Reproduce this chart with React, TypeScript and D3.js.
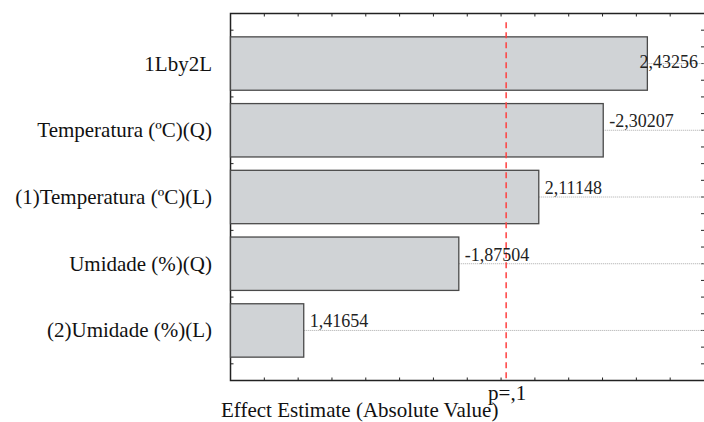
import React, { useRef, useEffect } from 'react';
import * as d3 from 'd3';

// Pareto chart of standardized effects
const effectNames = [
  '1Lby2L',
  'Temperatura (ºC)(Q)',
  '(1)Temperatura (ºC)(L)',
  'Umidade (%)(Q)',
  '(2)Umidade (%)(L)',
];
const effectValues = [2.43256, -2.30207, 2.11148, -1.87504, 1.41654];
const pLabel = 'p=,1';
const pCritical = 2.015;
const xTitle = 'Effect Estimate (Absolute Value)';

const fmt = (v: number) => v.toFixed(5).replace('.', ',');

const App = () => {
  const svgRef = useRef<SVGSVGElement>(null);

  useEffect(() => {
    const svg = d3.select(svgRef.current);
    svg.selectAll('*').remove();

    const width = 704;
    const height = 422;
    const margin = { top: 13.5, right: 0, bottom: 41.5, left: 230.5 };
    const font = '"Liberation Serif", "Times New Roman", serif';

    const x = d3.scaleLinear()
      .domain([1.2, 2.6])
      .range([margin.left, width - margin.right]);

    const y = d3.scaleLinear()
      .domain([0.25, 5.75])
      .range([margin.top, height - margin.bottom]);

    const data = effectNames.map((name, i) => ({ name, value: effectValues[i], pos: i + 1 }));
    const barH = y(0.8) - y(0);
    const x0 = x.range()[0], x1 = x.range()[1];
    const y0 = y.range()[0], y1 = y.range()[1];

    // frame: left, top, bottom (right edge is off-canvas)
    svg.append('path')
      .attr('d', `M${x1},${y0}H${x0}V${y1}H${x1}`)
      .attr('fill', 'none')
      .attr('stroke', '#222')
      .attr('stroke-width', 1.5);

    // x ticks (top and bottom, inward)
    const xt = d3.range(1.3, 2.6, 0.1);
    svg.append('g').selectAll('line.xb').data(xt).join('line')
      .attr('x1', d => x(d)).attr('x2', d => x(d))
      .attr('y1', y1).attr('y2', y1 - 3)
      .attr('stroke', '#222');
    svg.append('g').selectAll('line.xt').data(xt).join('line')
      .attr('x1', d => x(d)).attr('x2', d => x(d))
      .attr('y1', y0).attr('y2', y0 + 3)
      .attr('stroke', '#222');

    // y ticks (left and right, inward)
    const yt = d3.range(0.5, 5.75, 0.25);
    svg.append('g').selectAll('line').data(yt).join('line')
      .attr('x1', x0).attr('x2', x0 + 3)
      .attr('y1', d => y(d)).attr('y2', d => y(d))
      .attr('stroke', '#222');
    svg.append('g').selectAll('line').data(yt).join('line')
      .attr('x1', x1 - 3).attr('x2', x1)
      .attr('y1', d => y(d)).attr('y2', d => y(d))
      .attr('stroke', '#222');

    // dotted guide lines from bar ends
    svg.append('g').selectAll('line').data(data).join('line')
      .attr('x1', d => x(Math.abs(d.value)))
      .attr('x2', x1)
      .attr('y1', d => y(d.pos)).attr('y2', d => y(d.pos))
      .attr('stroke', '#aaa')
      .attr('stroke-width', 1)
      .attr('stroke-dasharray', '1,1');

    // bars
    svg.append('g').selectAll('rect').data(data).join('rect')
      .attr('x', x0)
      .attr('y', d => y(d.pos) - barH / 2)
      .attr('width', d => x(Math.abs(d.value)) - x0)
      .attr('height', barH)
      .attr('fill', '#d0d3d6')
      .attr('stroke', '#4a4a4a')
      .attr('stroke-width', 1.3);

    // critical value line
    svg.append('line')
      .attr('x1', x(pCritical)).attr('x2', x(pCritical))
      .attr('y1', y(0.38)).attr('y2', y1)
      .attr('stroke', '#ff4040')
      .attr('stroke-width', 1.5)
      .attr('stroke-dasharray', '6,4');

    // value labels
    svg.append('g').selectAll('text').data(data).join('text')
      .attr('font-family', font)
      .attr('font-size', 18)
      .attr('fill', '#222')
      .text(d => fmt(d.value))
      .each(function (d) {
        const el = this as SVGTextElement;
        const w = el.getComputedTextLength();
        let tx = x(Math.abs(d.value)) + 6;
        let ty = y(d.pos) - 3;
        if (tx + w > x1 - 4) {
          tx = x1 - 6 - w;
          ty = y(d.pos) + 4;
        }
        d3.select(el).attr('x', tx).attr('y', ty);
      });

    // category labels
    svg.append('g').selectAll('text').data(data).join('text')
      .attr('x', 212)
      .attr('y', d => y(d.pos) + 7)
      .attr('text-anchor', 'end')
      .attr('font-family', font)
      .attr('font-size', 21)
      .attr('fill', '#111')
      .text(d => d.name);

    svg.append('text')
      .attr('x', x(pCritical) + 1)
      .attr('y', 400)
      .attr('text-anchor', 'middle')
      .attr('font-family', font)
      .attr('font-size', 21)
      .attr('fill', '#111')
      .text(pLabel);

    svg.append('text')
      .attr('x', 221)
      .attr('y', 416.5)
      .attr('font-family', font)
      .attr('font-size', 21)
      .attr('fill', '#111')
      .text(xTitle);
  }, []);

  return (
    <svg
      ref={svgRef}
      width={704}
      height={422}
      style={{ position: 'absolute', left: 0, top: 0, background: '#fff' }}
    />
  );
};

export default App;
